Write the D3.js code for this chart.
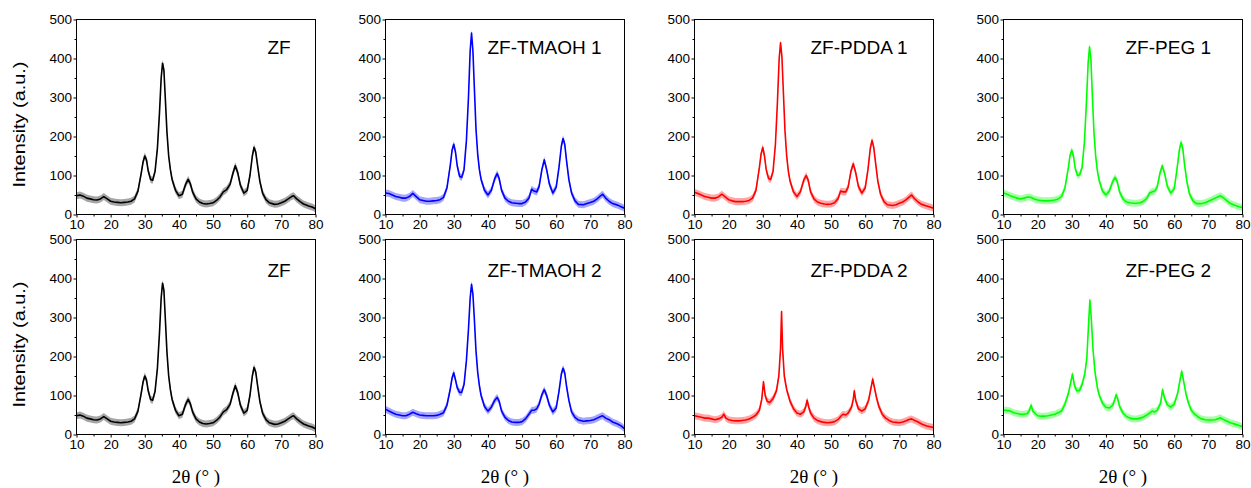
<!DOCTYPE html>
<html lang="en">
<head>
<meta charset="utf-8">
<title>XRD patterns</title>
<script src="https://cdn.jsdelivr.net/npm/d3@7"></script>
<style>
  body { margin: 0; background: #fff; }
  svg text { font-family: Arial, "Liberation Sans", sans-serif; fill: #000; }
  .tick text { font-size: 13.5px; }
  .xtitle { font-family: "Times New Roman", "Liberation Serif", serif; font-size: 19px; }
</style>
</head>
<body>
<div id="chart"></div>
<script>
// [2theta, intensity]
var zf = [[10,48],[11,50],[12,47],[13,42],[14,40],[15,38],[16,37],[17,40],[18,46],[19,40],[20,34],[21,32],[22,31],[23,30],[24,31],[25,32],[26,34],[27,40],[28,60],[29,108],[29.5,135],[30,150],[30.5,140],[31,112],[31.7,90],[32.3,88],[33,110],[33.7,170],[34.3,260],[34.8,350],[35.2,388],[35.6,370],[36,300],[36.5,210],[37,150],[37.5,115],[38,90],[39,62],[40,48],[41,52],[42,78],[42.7,90],[43.3,80],[44,58],[45,40],[46,32],[47,28],[48,27],[49,28],[50,30],[51,36],[52,45],[53,58],[54,64],[55,78],[55.8,105],[56.5,125],[57.2,108],[58,75],[59,55],[60,62],[60.8,100],[61.5,150],[62,172],[62.5,160],[63,128],[63.7,85],[64.5,55],[65.5,38],[66.5,30],[68,26],[69,27],[70,30],[71,34],[72,40],[73,46],[73.6,48],[74.5,40],[75.5,33],[76.5,27],[78,22],[79,19],[80,15]];

var tmaoh1 = [[10,55],[11,54],[12,50],[13,46],[14,44],[15,42],[16,42],[17,46],[18,54],[19,46],[20,38],[21,36],[22,34],[23,34],[24,35],[25,36],[26,38],[27,44],[28,68],[29,128],[29.5,165],[30,180],[30.5,160],[31,125],[31.7,98],[32.3,95],[33,115],[33.7,190],[34.3,300],[34.8,420],[35.2,465],[35.6,420],[36,330],[36.5,220],[37,155],[37.5,115],[38,90],[39,62],[40,50],[41,62],[42,92],[42.7,105],[43.3,92],[44,62],[45,42],[46,34],[47,30],[48,29],[49,28],[50,28],[51,32],[52,42],[52.8,65],[53.5,60],[54.3,58],[55,72],[55.8,115],[56.5,140],[57.2,115],[58,78],[59,55],[60,70],[60.8,120],[61.5,175],[62,195],[62.5,180],[63,140],[63.7,90],[64.5,55],[65.5,35],[66.5,26],[68,25],[69,28],[70,31],[71,34],[72,40],[73,48],[73.6,52],[74.5,42],[75.5,34],[76.5,28],[78,24],[79,20],[80,16]];

var pdda1 = [[10,57],[11,54],[12,50],[13,46],[14,44],[15,42],[16,42],[17,45],[18,52],[19,45],[20,38],[21,35],[22,33],[23,33],[24,33],[25,34],[26,36],[27,42],[28,62],[29,120],[29.5,155],[30,172],[30.5,150],[31,115],[31.7,92],[32.3,90],[33,110],[33.7,180],[34.3,290],[34.8,400],[35.2,440],[35.6,405],[36,320],[36.5,215],[37,150],[37.5,110],[38,85],[39,58],[40,46],[41,58],[42,88],[42.7,100],[43.3,88],[44,58],[45,40],[46,32],[47,29],[48,27],[49,26],[50,27],[51,30],[52,40],[52.8,60],[53.5,58],[54.3,58],[55,70],[55.8,110],[56.5,130],[57.2,108],[58,72],[59,55],[60,68],[60.8,115],[61.5,170],[62,190],[62.5,172],[63,135],[63.7,85],[64.5,52],[65.5,33],[66.5,25],[68,23],[69,25],[70,29],[71,32],[72,38],[73,46],[73.6,50],[74.5,40],[75.5,32],[76.5,26],[78,22],[79,19],[80,16]];

var peg1 = [[10,55],[11,52],[12,48],[13,45],[14,42],[15,40],[16,42],[17,45],[18,44],[19,40],[20,37],[21,36],[22,35],[23,35],[24,36],[25,37],[26,40],[27,46],[28,68],[29,120],[29.5,152],[30,165],[30.5,150],[31,118],[31.7,100],[32.3,102],[33,120],[33.7,185],[34.3,290],[34.8,390],[35.2,430],[35.6,400],[36,310],[36.5,210],[37,150],[37.5,112],[38,88],[39,60],[40,50],[41,60],[42,85],[42.7,95],[43.3,85],[44,58],[45,40],[46,32],[47,30],[48,29],[49,29],[50,30],[51,34],[52,42],[52.8,55],[53.5,58],[54.3,60],[55,70],[55.8,105],[56.5,125],[57.2,105],[58,72],[59,55],[60,66],[60.8,115],[61.5,165],[62,185],[62.5,170],[63,130],[63.7,85],[64.5,52],[65.5,35],[66.5,28],[68,28],[69,30],[70,34],[71,38],[72,42],[73,46],[73.6,48],[74.5,42],[75.5,35],[76.5,28],[78,23],[79,20],[80,18]];

var tmaoh2 = [[10,65],[11,60],[12,56],[13,52],[14,50],[15,48],[16,48],[17,52],[18,57],[19,53],[20,50],[21,49],[22,48],[23,48],[24,48],[25,49],[26,52],[27,56],[28,75],[29,118],[29.5,145],[30,158],[30.5,140],[31,120],[31.7,108],[32.3,108],[33,128],[33.7,190],[34.3,270],[34.8,350],[35.2,385],[35.6,360],[36,300],[36.5,215],[37,160],[37.5,125],[38,100],[39,72],[40,60],[41,70],[42,88],[42.7,95],[43.3,85],[44,60],[45,44],[46,36],[47,32],[48,31],[49,31],[50,33],[51,40],[52,52],[52.8,62],[53.5,62],[54.3,66],[55,78],[55.8,102],[56.5,115],[57.2,100],[58,75],[59,58],[60,68],[60.8,110],[61.5,155],[62,170],[62.5,158],[63,125],[63.7,88],[64.5,58],[65.5,44],[66.5,37],[68,34],[69,35],[70,36],[71,38],[72,42],[73,46],[73.6,48],[74.5,42],[75.5,38],[76.5,32],[78,27],[79,22],[80,15]];

var pdda2 = [[10,48],[11,46],[12,44],[13,42],[14,42],[15,40],[16,38],[17,40],[18,44],[18.6,52],[19.2,42],[20,38],[21,36],[22,35],[23,35],[24,36],[25,37],[26,40],[27,44],[28,50],[29,62],[29.7,90],[30.2,135],[30.7,100],[31.3,85],[32,82],[33,92],[34,112],[34.7,150],[35.2,220],[35.5,315],[35.8,220],[36.3,150],[37,115],[38,85],[39,66],[40,55],[41,52],[42,58],[42.6,72],[43,88],[43.4,72],[44,55],[45,42],[46,36],[47,33],[48,31],[49,30],[50,31],[51,33],[52,38],[53,48],[53.5,52],[54.3,50],[55,55],[56,70],[56.5,90],[56.8,112],[57.2,88],[58,66],[59,60],[60,66],[61,88],[61.6,115],[62.2,142],[62.7,120],[63.3,95],[64,72],[65,52],[66,42],[67,36],[68,32],[69,31],[70,30],[71,32],[72,35],[73,39],[73.6,40],[74.5,36],[75.5,32],[76.5,27],[78,22],[79,20],[80,18]];

var peg2 = [[10,62],[11,62],[12,60],[13,56],[14,54],[15,52],[16,52],[17,54],[17.6,62],[18.1,75],[18.6,60],[19.5,52],[20,48],[21,47],[22,47],[23,48],[24,50],[25,52],[26,56],[27,60],[28,78],[29,105],[29.6,130],[30.2,155],[30.8,125],[31.5,112],[32.2,112],[33,128],[33.8,155],[34.4,195],[34.9,280],[35.3,345],[35.7,300],[36.2,220],[36.8,160],[37.5,120],[38,102],[39,80],[40,70],[41,68],[42,75],[42.6,90],[43,102],[43.5,90],[44,72],[45,55],[46,46],[47,42],[48,40],[49,40],[50,42],[51,45],[52,50],[53,56],[53.5,60],[54.3,58],[55,62],[56,80],[56.6,115],[57.1,95],[58,76],[59,70],[60,78],[61,105],[61.6,135],[62.2,162],[62.8,135],[63.5,102],[64.2,80],[65,62],[66,52],[67,45],[68,40],[69,38],[70,37],[71,37],[72,38],[73,41],[73.5,43],[74.5,38],[75.5,34],[76.5,30],[78,26],[79,23],[80,20]];

// half-width of the noise band around each trace (intensity units)
var noiseBand = [9, 9, 9, 9, 9, 9, 9, 9];

var panelLabels = ["ZF", "ZF-TMAOH 1", "ZF-PDDA 1", "ZF-PEG 1", "ZF", "ZF-TMAOH 2", "ZF-PDDA 2", "ZF-PEG 2"];
var panelData = [zf, tmaoh1, pdda1, peg1, zf, tmaoh2, pdda2, peg2];
var panelColors = ["#000000", "#0000ff", "#ff0000", "#00ff00", "#000000", "#0000ff", "#ff0000", "#00ff00"];

var xTicks = [10, 20, 30, 40, 50, 60, 70, 80];
var xMinor = [15, 25, 35, 45, 55, 65, 75];
var yTicks = [0, 100, 200, 300, 400, 500];
var yMinor = [50, 150, 250, 350, 450];

var width = 1251, height = 488;
var colLeft = [76.5, 385.5, 694.5, 1003.5],
    rowTop = [19.5, 239.5],
    pw = 239, ph = 195;
var labelDx = [191, 102, 116, 122],
    labelDy = [34.5, 37.5];

var svg = d3.select("#chart").append("svg")
  .attr("width", width)
  .attr("height", height);

var x = d3.scaleLinear().domain([10, 80]).range([0, pw]),
    y = d3.scaleLinear().domain([0, 500]).range([ph, 0]);

svg.append("defs").append("clipPath").attr("id", "plotclip")
  .append("rect").attr("width", pw).attr("height", ph);

panelData.forEach(function(data, i) {
  var r = Math.floor(i / 4), c = i % 4;
  var n = noiseBand[i], col = panelColors[i];
  var g = svg.append("g")
    .attr("transform", "translate(" + colLeft[c] + "," + rowTop[r] + ")");

  var plot = g.append("g").attr("clip-path", "url(#plotclip)");
  plot.append("path")
    .datum(data)
    .attr("fill", col)
    .attr("fill-opacity", 0.35)
    .attr("d", d3.area()
      .x(function(d) { return x(d[0]); })
      .y0(function(d) { return y(d[1] - n); })
      .y1(function(d) { return y(d[1] + n); }));
  plot.append("path")
    .datum(data)
    .attr("fill", "none")
    .attr("stroke", col)
    .attr("stroke-width", 1.6)
    .attr("stroke-linejoin", "round")
    .attr("d", d3.line()
      .x(function(d) { return x(d[0]); })
      .y(function(d) { return y(d[1]); }));

  // axes
  g.append("g").attr("transform", "translate(0," + ph + ")")
    .call(d3.axisBottom(x).tickValues(xTicks).tickSize(3).tickSizeOuter(0).tickPadding(2));
  g.append("g").attr("transform", "translate(0," + ph + ")")
    .call(d3.axisBottom(x).tickValues(xMinor).tickSize(2).tickSizeOuter(0).tickFormat(""));
  g.append("g")
    .call(d3.axisLeft(y).tickValues(yTicks).tickSize(3).tickSizeOuter(0).tickPadding(1.5));
  g.append("g")
    .call(d3.axisLeft(y).tickValues(yMinor).tickSize(2).tickSizeOuter(0).tickFormat(""));
  g.selectAll(".domain").remove();
  g.selectAll(".tick line").attr("stroke", "#000");
  g.selectAll(".tick text").attr("fill", "#000");

  g.append("rect")
    .attr("width", pw).attr("height", ph)
    .attr("fill", "none").attr("stroke", "#000").attr("stroke-width", 1);

  g.append("text")
    .attr("x", labelDx[c]).attr("y", labelDy[r])
    .attr("font-size", 19)
    .text(panelLabels[i]);
});

// axis titles
colLeft.forEach(function(l) {
  svg.append("text")
    .attr("class", "xtitle")
    .attr("x", l + pw / 2).attr("y", 483)
    .attr("text-anchor", "middle")
    .text("2\u03b8 (\u00b0 )");
});
rowTop.forEach(function(t) {
  svg.append("text")
    .attr("transform", "translate(25," + (t + 105) + ") rotate(-90)")
    .attr("text-anchor", "middle")
    .attr("font-size", 17)
    .attr("textLength", 126)
    .attr("lengthAdjust", "spacingAndGlyphs")
    .text("Intensity (a.u.)");
});
</script>
</body>
</html>
